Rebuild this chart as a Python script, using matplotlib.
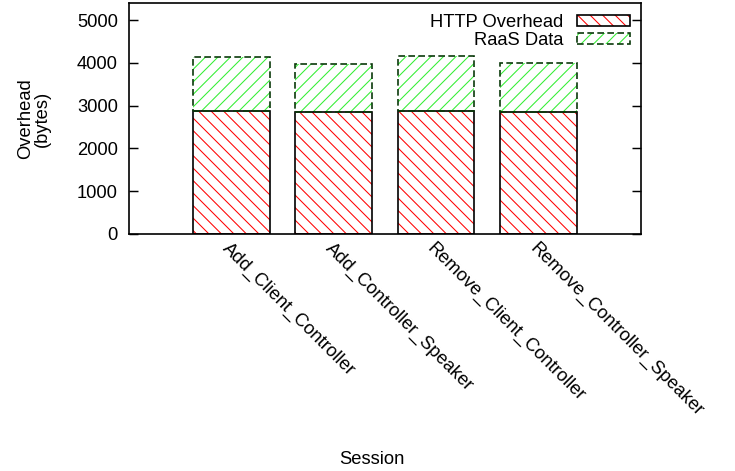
import numpy as np
import matplotlib
matplotlib.use('Agg')
import matplotlib.pyplot as plt

# Data
sessions = ['Add_Client_Controller', 'Add_Controller_Speaker',
            'Remove_Client_Controller', 'Remove_Controller_Speaker']
http_overhead = [2880, 2860, 2880, 2860]
raas_data = [1265, 1105, 1280, 1145]

plt.rcParams['font.family'] = ['Liberation Sans', 'DejaVu Sans']
plt.rcParams['font.size'] = 8.8
plt.rcParams['hatch.linewidth'] = 0.5

DPI = 150
fig = plt.figure(figsize=(735 / DPI, 471 / DPI), dpi=DPI)
ax = fig.add_axes([129 / 735, 1 - 234 / 471, 511.7 / 735, 231 / 471])

x = np.arange(len(sessions))
width = 0.75
http_base = np.array(http_overhead)

# hatch layers (hatch colour follows edge colour), then dark outlines on top
h1 = ax.bar(x, http_overhead, width, facecolor='white', edgecolor='red',
            linewidth=0, hatch='\\\\\\\\')
h2 = ax.bar(x, raas_data, width, bottom=http_base, facecolor='white',
            edgecolor='#33ee33', linewidth=0, hatch='////')
o1 = ax.bar(x, http_overhead, width, fill=False, edgecolor='black',
            linewidth=0.8)
o2 = ax.bar(x, raas_data, width, bottom=http_base, fill=False,
            edgecolor='#0b3a0b', linewidth=0.8, linestyle=(0, (4, 2)))

ax.set_xlim(-1, 4)
ax.set_ylim(0, 5400)
ax.set_yticks([0, 1000, 2000, 3000, 4000, 5000])
ax.tick_params(axis='y', direction='in', length=4.3, width=0.7, right=True,
               pad=5.4)
ax.set_xticks(x)
ax.set_xticklabels(sessions, rotation=-45, ha='left', va='top',
                   rotation_mode='anchor')
ax.tick_params(axis='x', length=0, pad=3)
for s in ax.spines.values():
    s.set_linewidth(0.8)

leg = ax.legend([(h1[0], o1[0]), (h2[0], o2[0])], ['HTTP Overhead', 'RaaS Data'],
                loc='upper right', frameon=False, markerfirst=False,
                handlelength=2.9, handleheight=0.55, handletextpad=0.75,
                labelspacing=0.05, borderpad=0, borderaxespad=0.58)
for t in leg.get_texts():
    t.set_ha('right')

fig.text(34 / 735, 1 - 119 / 471, 'Overhead\n(bytes)', rotation=90,
         ha='center', va='center', linespacing=0.95)
fig.text(372 / 735, 1 - 460 / 471, 'Session', ha='center', va='center')

fig.savefig('out.png', dpi=DPI)
